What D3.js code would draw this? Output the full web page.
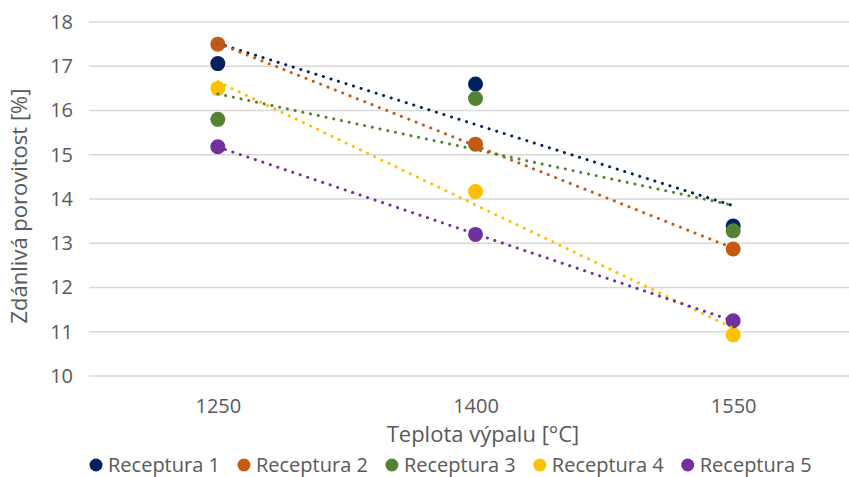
<!DOCTYPE html>
<html>
<head>
<meta charset="utf-8">
<script src="https://cdn.jsdelivr.net/npm/d3@7"></script>
<style>
  body { margin: 0; background: #fff; }
  text { font-family: "Open Sans", sans-serif; fill: #595959; }
</style>
</head>
<body>
<div id="chart"></div>
<script>
// data
const temps = ["1250", "1400", "1550"];
const seriesNames = ["Receptura 1", "Receptura 2", "Receptura 3", "Receptura 4", "Receptura 5"];
const seriesColors = ["#002060", "#c55a11", "#548235", "#ffc000", "#7030a0"];
const r1 = [17.06, 16.6, 13.39];
const r2 = [17.5, 15.24, 12.87];
const r3 = [15.8, 16.27, 13.28];
const r4 = [16.5, 14.17, 10.93];
const r5 = [15.18, 13.2, 11.25];
const yTicks = [10, 11, 12, 13, 14, 15, 16, 17, 18];

const values = [r1, r2, r3, r4, r5];

const W = 849, H = 477;
const margin = { top: 22, right: -13, bottom: 101, left: 89 };

const svg = d3.select("#chart").append("svg")
    .attr("width", W)
    .attr("height", H);

// scales
const x = d3.scalePoint()
    .domain(temps)
    .range([margin.left, W - margin.right])
    .padding(0.5);

const y = d3.scaleLinear()
    .domain([10, 18])
    .range([H - margin.bottom, margin.top]);

// gridlines
svg.append("g")
    .selectAll("line")
    .data(yTicks)
    .join("line")
    .attr("x1", margin.left)
    .attr("x2", W)
    .attr("y1", d => y(d))
    .attr("y2", d => y(d))
    .attr("stroke", "#d9d9d9")
    .attr("stroke-width", 1.5);

// y axis
const yAxis = svg.append("g")
    .attr("transform", "translate(" + (margin.left - 16) + ",0)")
    .call(d3.axisLeft(y).tickValues(yTicks).tickSize(0).tickPadding(0));
yAxis.select(".domain").remove();
yAxis.selectAll("text")
    .style("font-size", "20px")
    .style("fill", "#595959")
    .style("font-family", "'Open Sans', sans-serif");

// x axis
const xAxis = svg.append("g")
    .attr("transform", "translate(0," + (H - margin.bottom) + ")")
    .call(d3.axisBottom(x).tickSize(0).tickPadding(23));
xAxis.select(".domain").remove();
xAxis.selectAll("text")
    .style("font-size", "20px")
    .style("fill", "#595959")
    .style("font-family", "'Open Sans', sans-serif");

// axis titles
svg.append("text")
    .attr("x", 483)
    .attr("y", 442)
    .attr("text-anchor", "middle")
    .style("font-size", "22px")
    .text("Teplota výpalu [°C]");

svg.append("text")
    .attr("transform", "translate(27," + ((y(10) + y(18)) / 2 + 7) + ") rotate(-90)")
    .attr("text-anchor", "middle")
    .style("font-size", "22px")
    .text("Zdánlivá porovitost [%]");

// linear trendline (least squares on category index 1..3)
function trend(vals) {
    const xs = vals.map((d, i) => i + 1);
    const mx = d3.mean(xs), my = d3.mean(vals);
    const slope = d3.sum(xs, (xi, i) => (xi - mx) * (vals[i] - my)) / d3.sum(xs, xi => (xi - mx) ** 2);
    const b = my - slope * mx;
    return xs.map(xi => slope * xi + b);
}

const line = d3.line()
    .x((d, i) => x(temps[i]))
    .y(d => y(d));

// points first, trendlines on top like Excel
values.forEach((vals, s) => {
    svg.append("g")
        .selectAll("circle")
        .data(vals)
        .join("circle")
        .attr("cx", (d, i) => x(temps[i]))
        .attr("cy", d => y(d))
        .attr("r", 7.5)
        .attr("fill", seriesColors[s]);
});

values.forEach((vals, s) => {
    svg.append("path")
        .datum(trend(vals))
        .attr("d", line)
        .attr("fill", "none")
        .attr("stroke", seriesColors[s])
        .attr("stroke-width", 3)
        .attr("stroke-linecap", "round")
        .attr("stroke-dasharray", "0.1 7.8");
});

// legend
const legend = svg.append("g").attr("transform", "translate(0,465)");
let lx = 96;
seriesNames.forEach((name, s) => {
    const g = legend.append("g").attr("transform", "translate(" + lx + ",0)");
    g.append("circle")
        .attr("cx", 0)
        .attr("cy", 0)
        .attr("r", 6.5)
        .attr("fill", seriesColors[s]);
    const t = g.append("text")
        .attr("x", 12)
        .attr("y", 6.5)
        .style("font-size", "20px")
        .text(name);
    lx += 12 + t.node().getComputedTextLength() + 24;
});
</script>
</body>
</html>
